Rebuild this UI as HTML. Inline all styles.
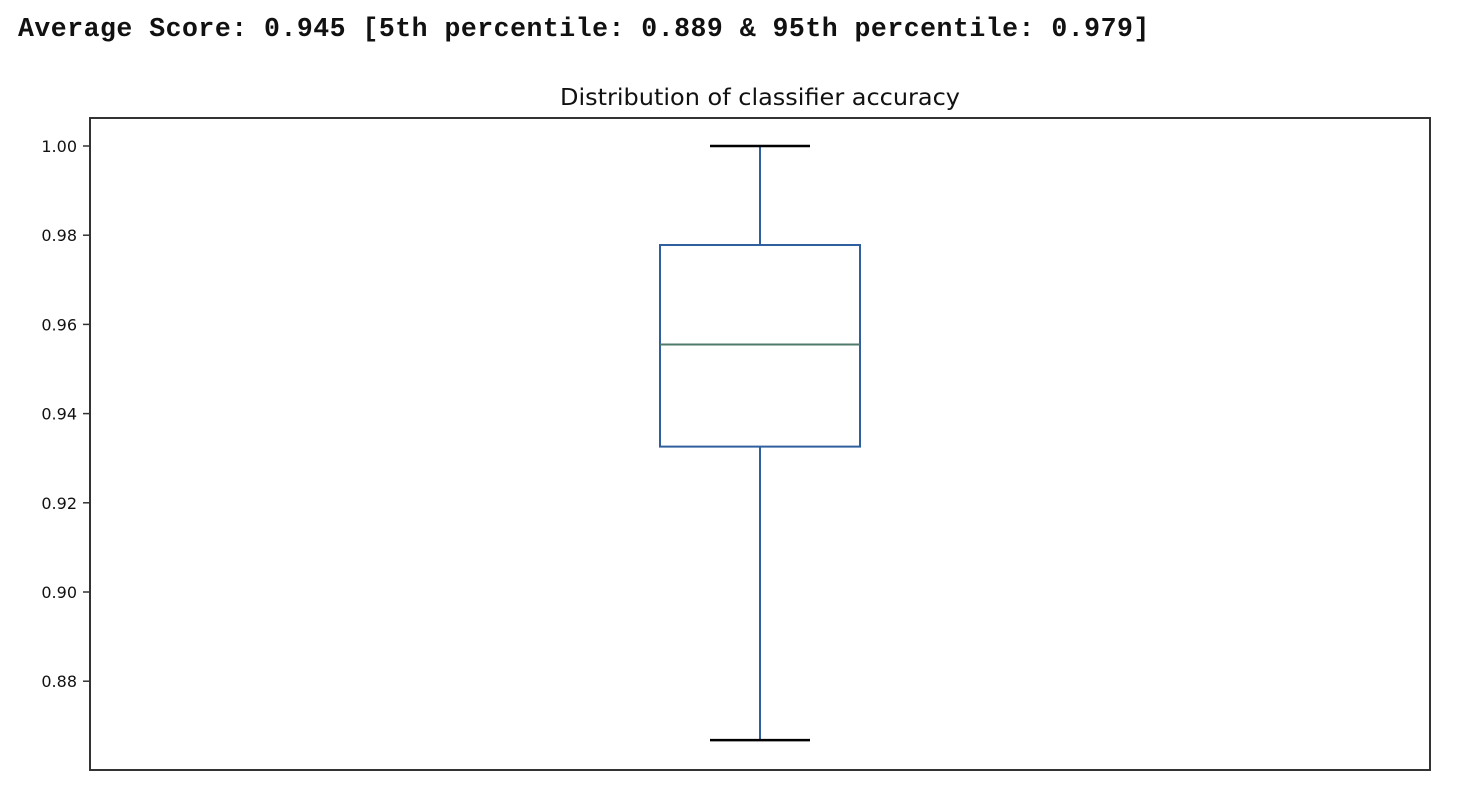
<!DOCTYPE html>
<html><head><meta charset="utf-8"><style>
body{margin:0;background:#fff;width:1460px;height:792px;overflow:hidden}
#hdr{position:absolute;left:18px;top:14px;font:bold 26.5px "Liberation Mono",monospace;color:#111;white-space:pre;letter-spacing:0.5px}
</style></head><body>
<div id="hdr">Average Score: 0.945 [5th percentile: 0.889 &amp; 95th percentile: 0.979]</div>
<svg id="chart" width="1460" height="792" style="position:absolute;left:0;top:0"></svg>
<script>
const tickValues=[0.88,0.90,0.92,0.94,0.96,0.98,1.00];
const tickLabels=["0.88","0.90","0.92","0.94","0.96","0.98","1.00"];
const whiskerLow=[0.8668];
const q1=[0.9326];
const median=[0.9555];
const q3=[0.9778];
const whiskerHigh=[1.000];
const categories=["accuracy"];
const svg=document.getElementById('chart');
const NS='http://www.w3.org/2000/svg';
const L=90,R=1430,T=118,B=770;
function y(v){return 146+(1.00-v)/0.02*89.2;}
function x(i){return L+(R-L)*(i+0.5)/categories.length;}
function el(t,a,parent){const e=document.createElementNS(NS,t);for(const k in a)e.setAttribute(k,a[k]);(parent||svg).appendChild(e);return e;}
const title=el('text',{x:760,y:105,'text-anchor':'middle','font-family':'DejaVu Sans, sans-serif','font-size':'23.5',fill:'#111',textLength:400,lengthAdjust:'spacingAndGlyphs'});
title.textContent='Distribution of classifier accuracy';


const frame=el('rect',{x:L,y:T,width:R-L,height:B-T,fill:'none',stroke:'#333','stroke-width':2});


tickValues.forEach((v,i)=>{
  const tk=el('line',{x1:L-7,x2:L,y1:y(v),y2:y(v),stroke:'#333','stroke-width':1.5});
  
  
  const t=el('text',{x:L-13,y:y(v)+6,'text-anchor':'end','font-family':'DejaVu Sans, sans-serif','font-size':'16',fill:'#111'});
  t.textContent=tickLabels[i];
  
  
});
categories.forEach((c,i)=>{
  const cx=x(i),hw=100,cw=50,blue='#2f5f9e';
  const wl=el('line',{x1:cx,x2:cx,y1:y(q1[i]),y2:y(whiskerLow[i]),stroke:blue,'stroke-width':2});
  
  
  const wh=el('line',{x1:cx,x2:cx,y1:y(q3[i]),y2:y(whiskerHigh[i]),stroke:blue,'stroke-width':2});
  
  
  const box=el('rect',{x:cx-hw,y:y(q3[i]),width:2*hw,height:y(q1[i])-y(q3[i]),fill:'none',stroke:blue,'stroke-width':2});
  
  
  const md=el('line',{x1:cx-hw,x2:cx+hw,y1:y(median[i]),y2:y(median[i]),stroke:'#4e7a6a','stroke-width':2});
  
  
  const cl=el('line',{x1:cx-cw,x2:cx+cw,y1:y(whiskerLow[i]),y2:y(whiskerLow[i]),stroke:'#000','stroke-width':2.5});
  
  
  const ch=el('line',{x1:cx-cw,x2:cx+cw,y1:y(whiskerHigh[i]),y2:y(whiskerHigh[i]),stroke:'#000','stroke-width':2.5});
  
  
});
</script>
</body></html>
